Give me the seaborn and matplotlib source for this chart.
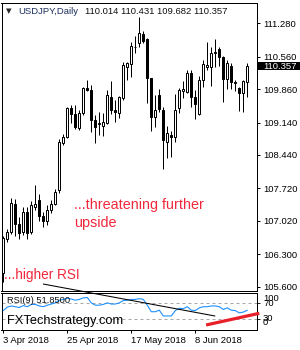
import numpy as np
import pandas as pd
import matplotlib
matplotlib.use("Agg")
import matplotlib.pyplot as plt
import matplotlib.transforms as mtrans
from matplotlib.patches import Rectangle
import seaborn as sns

# ---------------- data ----------------
opens = [105.895, 106.622, 106.779, 107.383, 106.952, 106.779, 107.211, 106.779, 107.329, 107.470,
         107.114, 107.006, 107.254, 107.394, 107.685, 108.709, 108.828, 109.447, 109.324, 109.022,
         109.335, 109.874, 109.852, 109.195, 109.113, 109.059, 109.130, 109.697, 109.410, 109.339,
         109.663, 110.331, 110.396, 110.758, 110.862, 111.049, 110.935, 110.094, 109.253, 109.734,
         109.410, 108.727, 108.871, 108.822, 109.447, 109.826, 109.805, 110.215, 109.684, 109.324,
         110.057, 110.340, 110.331, 110.646, 110.719, 110.560, 110.079, 110.359, 109.986, 109.878,
         109.770, 110.014]
highs = [106.693, 106.844, 107.512, 107.491, 107.103, 107.318, 107.318, 107.448, 107.793, 107.599,
         107.211, 107.351, 107.470, 107.707, 108.785, 108.882, 109.481, 109.518, 109.518, 109.410,
         109.913, 110.057, 109.949, 109.302, 109.374, 109.356, 109.852, 110.042, 109.626, 109.712,
         110.452, 110.452, 110.883, 111.006, 111.422, 111.120, 110.956, 110.100, 109.734, 109.857,
         109.481, 109.065, 108.964, 109.755, 109.878, 110.042, 110.273, 110.273, 109.842, 110.144,
         110.489, 110.883, 110.775, 110.935, 110.775, 110.575, 110.489, 110.417, 110.057, 109.900,
         110.057, 110.431]
lows = [105.701, 106.564, 106.747, 106.693, 106.628, 106.715, 106.628, 106.736, 107.254, 107.006,
        106.898, 106.930, 107.189, 107.362, 107.620, 108.655, 108.796, 109.130, 109.011, 108.979,
        109.302, 109.820, 108.936, 108.699, 108.871, 108.839, 109.108, 109.324, 109.158, 109.231,
        109.626, 110.057, 110.128, 110.640, 110.775, 110.849, 109.568, 108.964, 109.037, 109.374,
        108.132, 108.369, 108.403, 108.727, 109.352, 109.663, 109.770, 109.481, 109.210, 109.302,
        109.913, 110.273, 109.928, 110.344, 110.359, 109.589, 109.857, 109.857, 109.826, 109.389,
        109.374, 109.682]
closes = [106.643, 106.786, 107.405, 106.952, 106.758, 107.211, 106.758, 107.362, 107.383, 107.114,
          107.006, 107.254, 107.394, 107.642, 108.727, 108.828, 109.447, 109.324, 109.054, 109.335,
          109.874, 109.852, 109.205, 109.054, 109.124, 109.145, 109.744, 109.410, 109.374, 109.684,
          110.381, 110.417, 110.790, 110.775, 111.064, 110.905, 110.094, 109.253, 109.410, 109.425,
          108.763, 108.908, 108.822, 109.410, 109.842, 109.857, 110.202, 109.697, 109.540, 110.057,
          110.402, 110.370, 110.646, 110.667, 110.560, 110.072, 110.417, 110.021, 110.021, 109.770,
          110.036, 110.357]
rsi = [51, 60, 63, 61, 59, 64, 61, 67, 67, 63, 61, 65, 68, 71, 78, 80, 83, 81, 78, 80,
       84, 85, 71, 65, 65, 67, 71, 68, 68, 71, 77, 78, 80, 80, 82, 80, 65, 48, 48, 52,
       37, 37, 37, 51, 57, 56, 61, 52, 51, 58, 61, 61, 63, 63, 61, 54, 58, 52, 51, 45,
       47, 51.85]
price_ticks = [111.280, 110.560, 109.860, 109.140, 108.440, 107.720, 107.020, 106.300, 105.600]
date_ticks = [0, 16, 32, 48]
date_labels = ["3 Apr 2018", "25 Apr 2018", "17 May 2018", "8 Jun 2018"]
rsi_labels = ["100", "70", "30", "0"]
rsi_label_pos = [83.5, 70.5, 31, 21]
trend_black_x = [10.0, 52.9]
trend_black_y = [120.0, 36.9]
trend_red_x = [50.7, 64.0]
trend_red_y = [13.5, 43.9]
last_price = 110.357

# ---------------- style ----------------
sns.set_style("white")
plt.rcParams['font.family'] = ['Liberation Sans', 'DejaVu Sans']
plt.rcParams['axes.linewidth'] = 0.72
plt.rcParams['axes.edgecolor'] = 'black'

W, H = 300, 350
fig = plt.figure(figsize=(W / 100, H / 100), dpi=100)


def px_rect(l, t, r, b):
    return [l / W, 1 - b / H, (r - l) / W, (b - t) / H]


ax = fig.add_axes(px_rect(1.5, 2.7, 256.5, 290.5))
ax2 = fig.add_axes(px_rect(1.5, 292.5, 256.5, 329.8))

idx = np.arange(len(closes))
df = pd.DataFrame({"i": idx, "open": opens, "high": highs, "low": lows,
                   "close": closes, "rsi": rsi})

# ---------------- candles ----------------
ax.vlines(df["i"], df["low"], df["high"], color="black", lw=0.72, zorder=1)
up = df["close"] >= df["open"]
body_bottom = np.minimum(df["open"], df["close"])
body_h = np.maximum(np.abs(df["close"] - df["open"]), 0.004)
ax.bar(df["i"][up], body_h[up], bottom=body_bottom[up], width=0.5,
       color="white", edgecolor="black", linewidth=0.72, zorder=2)
ax.bar(df["i"][~up], body_h[~up], bottom=body_bottom[~up], width=0.5,
       color="black", edgecolor="black", linewidth=0.72, zorder=2)

ax.set_xlim(-0.45, 63.3)
ax.set_ylim(105.518, 111.724)
ax.set_xticks([])
ax.yaxis.tick_right()
ax.set_yticks(price_ticks)
ax.set_yticklabels([f"{v:.3f}" for v in price_ticks])
ax.tick_params(axis="y", right=True, left=False, length=2.2, width=0.72,
               pad=2.4, labelsize=6.8, colors="black")
for s in ax.spines.values():
    s.set_visible(True)
    s.set_linewidth(0.72)
    s.set_color("black")

# current price box
btr = mtrans.blended_transform_factory(ax.transAxes, ax.transData)
ax.add_patch(Rectangle((1.003, last_price - 0.09), 0.2, 0.18, transform=btr,
                       facecolor="black", edgecolor="none", clip_on=False, zorder=5))
ax.text(1 + 6.5 / 255, last_price, f"{last_price:.3f}", transform=btr, ha="left",
        va="center", color="white", fontsize=6.8, zorder=6, clip_on=False)

# ---------------- RSI ----------------
sns.lineplot(data=df, x="i", y="rsi", ax=ax2, color="#1e90ff", lw=0.8, zorder=3)
ax2.axhline(70, color="#a8a8a8", lw=0.72, ls=(0, (3, 3)), zorder=1)
ax2.axhline(30, color="#a8a8a8", lw=0.72, ls=(0, (3, 3)), zorder=1)
ax2.set_xlim(-0.45, 63.3)
ax2.set_ylim(1, 98)
ax2.set_xlabel("")
ax2.set_ylabel("")
ax2.set_xticks(date_ticks)
ax2.set_xticklabels(date_labels, ha="left")
ax2.tick_params(axis="x", bottom=True, length=2.5, width=0.72, pad=2.0,
                labelsize=6.8, colors="black")
ax2.yaxis.tick_right()
ax2.set_yticks([30, 70])
ax2.set_yticklabels(["", ""])
ax2.tick_params(axis="y", right=True, left=False, length=2.2, width=0.72)
for s in ax2.spines.values():
    s.set_visible(True)
    s.set_linewidth(0.72)
    s.set_color("black")
btr2 = mtrans.blended_transform_factory(ax2.transAxes, ax2.transData)
for lab, v in zip(rsi_labels, rsi_label_pos):
    ax2.text(1 + 6.5 / 255, v, lab, transform=btr2, ha="left", va="center",
             fontsize=6.8, color="black", clip_on=False)

ax2.plot(trend_black_x, trend_black_y, color="black", lw=0.75, clip_on=False, zorder=4)
ax2.plot(trend_red_x, trend_red_y, color="#e8202a", lw=2.3, clip_on=False,
         zorder=4, solid_capstyle="butt")

# ---------------- texts ----------------
def ftext(x, y, s, **kw):
    fig.text(x / W, 1 - y / H, s, **kw)


ftext(5.5, 10.8, "\u25BC", fontsize=5.2, va="center", ha="left", family="DejaVu Sans")
ftext(18, 11, "USDJPY,Daily", fontsize=6.8, va="center", ha="left", color="#1c2f5e")
ftext(85, 11, "110.014 110.431 109.682 110.357", fontsize=6.8, va="center", ha="left",
      color="#111111")
ftext(74, 204.5, "...threatening further", fontsize=10.4, va="center", ha="left",
      color="#f0283c")
ftext(74, 222.5, "upside", fontsize=10.4, va="center", ha="left", color="#f0283c")
ftext(4, 275.5, "...higher RSI", fontsize=9.8, va="center", ha="left", color="#f0283c")
ftext(7, 300.5, "RSI(9) 51.8500", fontsize=6.7, va="center", ha="left", color="#111111",
      zorder=5)
ftext(7, 321, "FXTechstrategy.com", fontsize=9.3, va="center", ha="left", color="black",
      zorder=5)

fig.savefig("out.png", dpi=100, facecolor="white")
